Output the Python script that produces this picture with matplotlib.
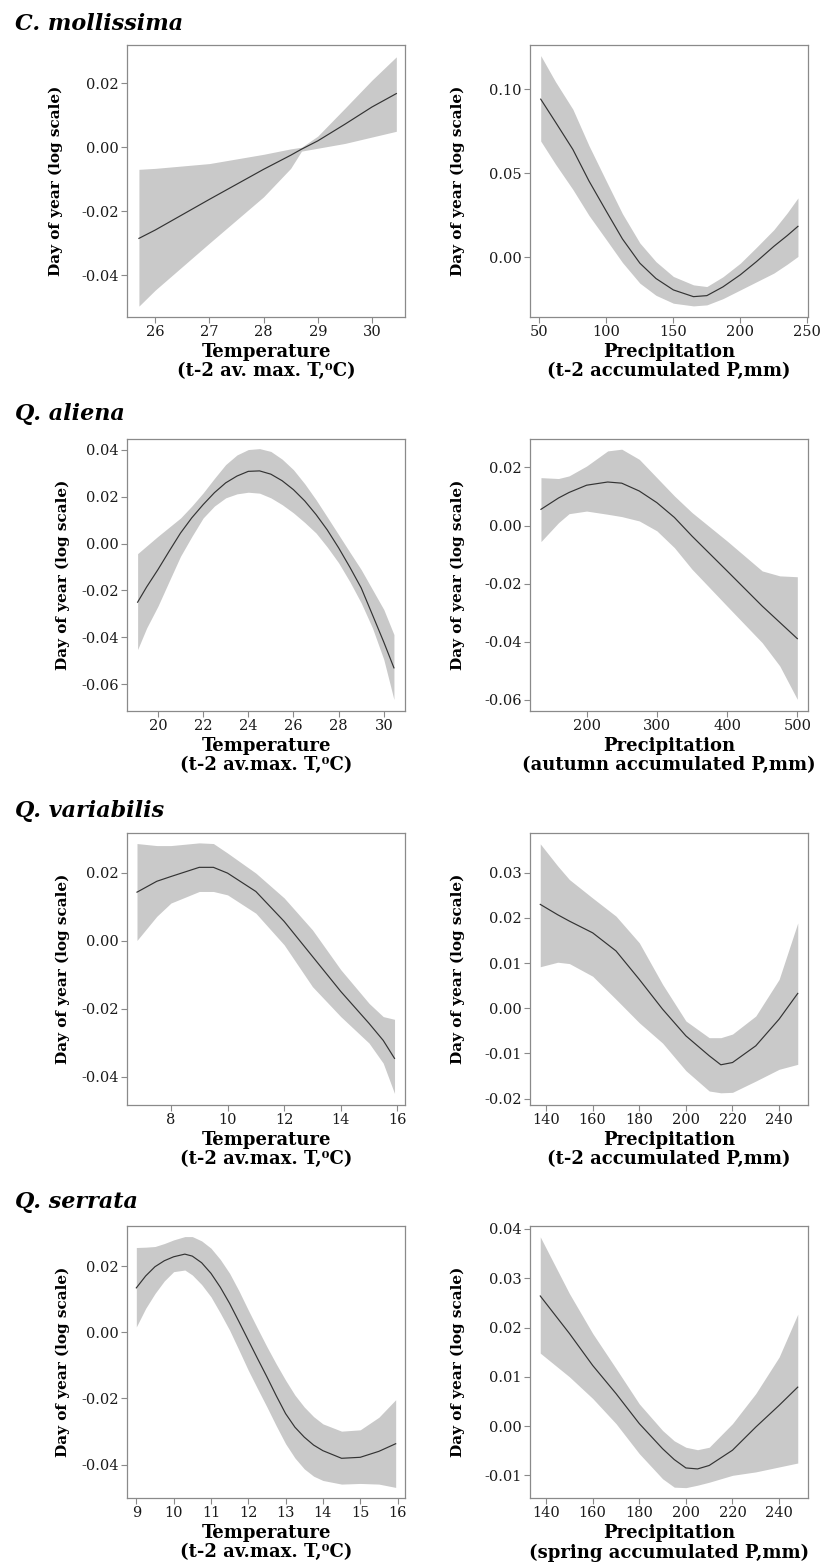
import matplotlib
matplotlib.use("Agg")
import matplotlib.pyplot as plt

plt.rcParams['font.family'] = ['DejaVu Serif']
plt.rcParams['axes.unicode_minus'] = False

# ---------------- data ----------------
species = ["C. mollissima", "Q. aliena", "Q. variabilis", "Q. serrata"]

# Row 1 left: C. mollissima, temperature
p1_x = [25.7, 26, 27, 28, 28.5, 28.7, 29, 29.5, 30, 30.45]
p1_fit = [-0.0285, -0.0259, -0.0163, -0.0069, -0.0025, -0.0006, 0.0020, 0.0072, 0.0126, 0.0168]
p1_lo = [-0.0497, -0.0447, -0.0300, -0.0155, -0.0066, -0.0012, -0.0003, 0.0012, 0.0032, 0.0050]
p1_hi = [-0.0069, -0.0066, -0.0051, -0.0022, -0.0005, 0.0000, 0.0035, 0.0122, 0.0210, 0.0283]

# Row 1 right: C. mollissima, precipitation
p2_x = [51, 62, 75, 87, 100, 112, 125, 137, 150, 165, 175, 187, 200, 212, 225, 235, 243]
p2_fit = [0.0941, 0.0805, 0.0642, 0.0455, 0.0274, 0.0110, -0.0034, -0.0125, -0.0193, -0.0233, -0.0227, -0.0175, -0.0103, -0.0025, 0.0066, 0.0130, 0.0185]
p2_lo = [0.0692, 0.0555, 0.0404, 0.0250, 0.0105, -0.0030, -0.0153, -0.0225, -0.0272, -0.0288, -0.0282, -0.0245, -0.0193, -0.0145, -0.0093, -0.0040, 0.0006]
p2_hi = [0.1200, 0.1045, 0.0881, 0.0665, 0.0453, 0.0260, 0.0086, -0.0025, -0.0113, -0.0163, -0.0173, -0.0115, -0.0034, 0.0060, 0.0165, 0.0265, 0.0354]

# Row 2 left: Q. aliena, temperature
p3_x = [19.1, 19.5, 20, 20.5, 21, 21.5, 22, 22.5, 23, 23.5, 24, 24.5, 25, 25.5, 26, 26.5, 27, 27.5, 28, 28.5, 29, 29.5, 30, 30.45]
p3_fit = [-0.0250, -0.0185, -0.0111, -0.0032, 0.0045, 0.0110, 0.0166, 0.0217, 0.0259, 0.0288, 0.0308, 0.0310, 0.0296, 0.0268, 0.0230, 0.0182, 0.0124, 0.0058, -0.0018, -0.0101, -0.0189, -0.0304, -0.0420, -0.0530]
p3_lo = [-0.0452, -0.0360, -0.0267, -0.0160, -0.0054, 0.0030, 0.0109, 0.0160, 0.0195, 0.0212, 0.0219, 0.0215, 0.0195, 0.0166, 0.0131, 0.0090, 0.0045, -0.0015, -0.0082, -0.0163, -0.0253, -0.0360, -0.0494, -0.0665]
p3_hi = [-0.0043, -0.0010, 0.0031, 0.0070, 0.0109, 0.0160, 0.0216, 0.0278, 0.0337, 0.0378, 0.0401, 0.0405, 0.0393, 0.0360, 0.0315, 0.0255, 0.0187, 0.0113, 0.0038, -0.0037, -0.0111, -0.0196, -0.0281, -0.0388]

# Row 2 right: Q. aliena, precipitation
p4_x = [135, 160, 175, 200, 230, 250, 275, 300, 325, 350, 400, 450, 475, 500]
p4_fit = [0.0056, 0.0095, 0.0114, 0.0139, 0.0150, 0.0146, 0.0119, 0.0079, 0.0028, -0.0036, -0.0156, -0.0277, -0.0333, -0.0389]
p4_lo = [-0.0055, 0.0010, 0.0041, 0.0050, 0.0039, 0.0031, 0.0016, -0.0018, -0.0076, -0.0150, -0.0277, -0.0403, -0.0483, -0.0598]
p4_hi = [0.0165, 0.0162, 0.0171, 0.0205, 0.0257, 0.0263, 0.0228, 0.0165, 0.0102, 0.0045, -0.0053, -0.0156, -0.0173, -0.0176]

# Row 3 left: Q. variabilis, temperature
p5_x = [6.8, 7.5, 8, 9, 9.5, 10, 11, 12, 13, 14, 15, 15.5, 15.9]
p5_fit = [0.0143, 0.0175, 0.0189, 0.0216, 0.0216, 0.0199, 0.0145, 0.0057, -0.0046, -0.0149, -0.0243, -0.0293, -0.0346]
p5_lo = [0.0001, 0.0072, 0.0111, 0.0145, 0.0145, 0.0135, 0.0081, -0.0012, -0.0135, -0.0223, -0.0301, -0.0360, -0.0449]
p5_hi = [0.0286, 0.0280, 0.0280, 0.0288, 0.0286, 0.0258, 0.0199, 0.0126, 0.0032, -0.0085, -0.0184, -0.0223, -0.0231]

# Row 3 right: Q. variabilis, precipitation
p6_x = [137.5, 145, 150, 160, 170, 180, 190, 200, 210, 215, 220, 230, 240, 248]
p6_fit = [0.0230, 0.0207, 0.0193, 0.0167, 0.0127, 0.0064, -0.0002, -0.0061, -0.0105, -0.0125, -0.0120, -0.0083, -0.0024, 0.0033]
p6_lo = [0.0092, 0.0102, 0.0099, 0.0071, 0.0020, -0.0032, -0.0077, -0.0138, -0.0183, -0.0187, -0.0186, -0.0161, -0.0135, -0.0124]
p6_hi = [0.0364, 0.0315, 0.0285, 0.0244, 0.0204, 0.0145, 0.0053, -0.0028, -0.0065, -0.0065, -0.0057, -0.0017, 0.0064, 0.0189]

# Row 4 left: Q. serrata, temperature
p7_x = [9, 9.25, 9.5, 9.75, 10, 10.3, 10.5, 10.75, 11, 11.25, 11.5, 11.75, 12, 12.25, 12.5, 12.75, 13, 13.25, 13.5, 13.75, 14, 14.5, 15, 15.5, 15.95]
p7_fit = [0.0134, 0.0170, 0.0198, 0.0216, 0.0228, 0.0236, 0.0230, 0.0210, 0.0178, 0.0136, 0.0087, 0.0032, -0.0024, -0.0080, -0.0135, -0.0192, -0.0246, -0.0287, -0.0317, -0.0341, -0.0358, -0.0381, -0.0378, -0.0360, -0.0337]
p7_lo = [0.0016, 0.0072, 0.0117, 0.0155, 0.0183, 0.0188, 0.0173, 0.0144, 0.0107, 0.0058, 0.0006, -0.0054, -0.0115, -0.0171, -0.0226, -0.0283, -0.0337, -0.0380, -0.0413, -0.0435, -0.0448, -0.0459, -0.0457, -0.0459, -0.0469]
p7_hi = [0.0256, 0.0257, 0.0259, 0.0268, 0.0279, 0.0289, 0.0289, 0.0276, 0.0254, 0.0220, 0.0178, 0.0125, 0.0067, 0.0011, -0.0044, -0.0096, -0.0145, -0.0190, -0.0226, -0.0255, -0.0277, -0.0299, -0.0295, -0.0257, -0.0204]

# Row 4 right: Q. serrata, precipitation
p8_x = [137.5, 150, 160, 170, 180, 190, 195, 200, 205, 210, 220, 230, 240, 248]
p8_fit = [0.0264, 0.0188, 0.0123, 0.0066, 0.0005, -0.0046, -0.0068, -0.0085, -0.0087, -0.0080, -0.0049, -0.0002, 0.0042, 0.0079]
p8_lo = [0.0148, 0.0100, 0.0056, 0.0005, -0.0056, -0.0107, -0.0124, -0.0125, -0.0120, -0.0114, -0.0100, -0.0093, -0.0083, -0.0075]
p8_hi = [0.0384, 0.0269, 0.0188, 0.0117, 0.0045, -0.0009, -0.0030, -0.0043, -0.0048, -0.0043, 0.0005, 0.0066, 0.0140, 0.0227]

# tick values
p1_xt = [26, 27, 28, 29, 30];               p1_yt = [-0.04, -0.02, 0.00, 0.02]
p2_xt = [50, 100, 150, 200, 250];           p2_yt = [0.00, 0.05, 0.10]
p3_xt = [20, 22, 24, 26, 28, 30];           p3_yt = [-0.06, -0.04, -0.02, 0.00, 0.02, 0.04]
p4_xt = [200, 300, 400, 500];               p4_yt = [-0.06, -0.04, -0.02, 0.00, 0.02]
p5_xt = [8, 10, 12, 14, 16];                p5_yt = [-0.04, -0.02, 0.00, 0.02]
p6_xt = [140, 160, 180, 200, 220, 240];     p6_yt = [-0.02, -0.01, 0.00, 0.01, 0.02, 0.03]
p7_xt = [9, 10, 11, 12, 13, 14, 15, 16];    p7_yt = [-0.04, -0.02, 0.00, 0.02]
p8_xt = [140, 160, 180, 200, 220, 240];     p8_yt = [-0.01, 0.00, 0.01, 0.02, 0.03, 0.04]

ylab = "Day of year (log scale)"
xlabels = [
    "Temperature\n(t-2 av. max. T,\u2070C)",
    "Precipitation\n(t-2 accumulated P,mm)",
    "Temperature\n(t-2 av.max. T,\u2070C)",
    "Precipitation\n(autumn accumulated P,mm)",
    "Temperature\n(t-2 av.max. T,\u2070C)",
    "Precipitation\n(t-2 accumulated P,mm)",
    "Temperature\n(t-2 av.max. T,\u2070C)",
    "Precipitation\n(spring accumulated P,mm)",
]

panels = [
    (p1_x, p1_fit, p1_lo, p1_hi, p1_xt, p1_yt, (25.48, 30.61), (-0.0531, 0.0320)),
    (p2_x, p2_fit, p2_lo, p2_hi, p2_xt, p2_yt, (43.0, 250.5), (-0.0354, 0.1263)),
    (p3_x, p3_fit, p3_lo, p3_hi, p3_xt, p3_yt, (18.63, 30.94), (-0.0714, 0.0446)),
    (p4_x, p4_fit, p4_lo, p4_hi, p4_xt, p4_yt, (119.4, 515.2), (-0.0638, 0.0298)),
    (p5_x, p5_fit, p5_lo, p5_hi, p5_xt, p5_yt, (6.447, 16.27), (-0.0483, 0.0317)),
    (p6_x, p6_fit, p6_lo, p6_hi, p6_xt, p6_yt, (133.1, 252.4), (-0.0214, 0.0388)),
    (p7_x, p7_fit, p7_lo, p7_hi, p7_xt, p7_yt, (8.75, 16.2), (-0.0501, 0.0321)),
    (p8_x, p8_fit, p8_lo, p8_hi, p8_xt, p8_yt, (133.1, 252.4), (-0.0146, 0.0406)),
]

# ---------------- layout ----------------
W, H = 821, 1568
fig = plt.figure(figsize=(W / 100, H / 100), dpi=100)

def rect(l, t, r, b):
    return [l / W, 1 - b / H, (r - l) / W, (b - t) / H]

row_tops = [45, 439, 833, 1226]
col_lr = [(127, 405), (530, 808)]
ylab_x = [[-0.230, -0.234], [-0.205, -0.234], [-0.205, -0.234], [-0.205, -0.234]]
title_base = [30, 420, 817, 1208]

spine_col = '#8a8a8a'
band_col = '#c9c9c9'
line_col = '#333333'

for i, (x, fit, lo, hi, xt, yt, xl, yl) in enumerate(panels):
    r, c = divmod(i, 2)
    l, rr = col_lr[c]
    t = row_tops[r]
    ax = fig.add_axes(rect(l, t, rr, t + 272))
    ax.fill_between(x, lo, hi, color=band_col, lw=0)
    ax.plot(x, fit, color=line_col, lw=0.85)
    ax.set_xlim(*xl)
    ax.set_ylim(*yl)
    ax.set_xticks(xt)
    ax.set_xticklabels([str(v) for v in xt])
    ax.set_yticks(yt)
    ax.set_yticklabels(["%.2f" % v for v in yt])
    for s in ['top', 'right', 'left', 'bottom']:
        ax.spines[s].set_color(spine_col)
        ax.spines[s].set_linewidth(0.9)
    ax.tick_params(direction='out', length=4, width=0.8, color=spine_col,
                   labelsize=10.5, labelcolor='#1a1a1a', pad=2)
    ax.tick_params(top=False, right=False)
    ax.set_ylabel(ylab, fontsize=11, fontweight='bold')
    ax.yaxis.set_label_coords(ylab_x[r][c], 0.5)
    ax.set_xlabel(xlabels[i], fontsize=13, fontweight='bold', linespacing=1.1)
    ax.xaxis.set_label_coords(0.5, -0.095)

for r in range(4):
    fig.text(15 / W, 1 - title_base[r] / H, species[r], fontsize=16,
             fontweight='bold', fontstyle='italic', va='baseline', ha='left')

fig.savefig('out.png', dpi=100)
